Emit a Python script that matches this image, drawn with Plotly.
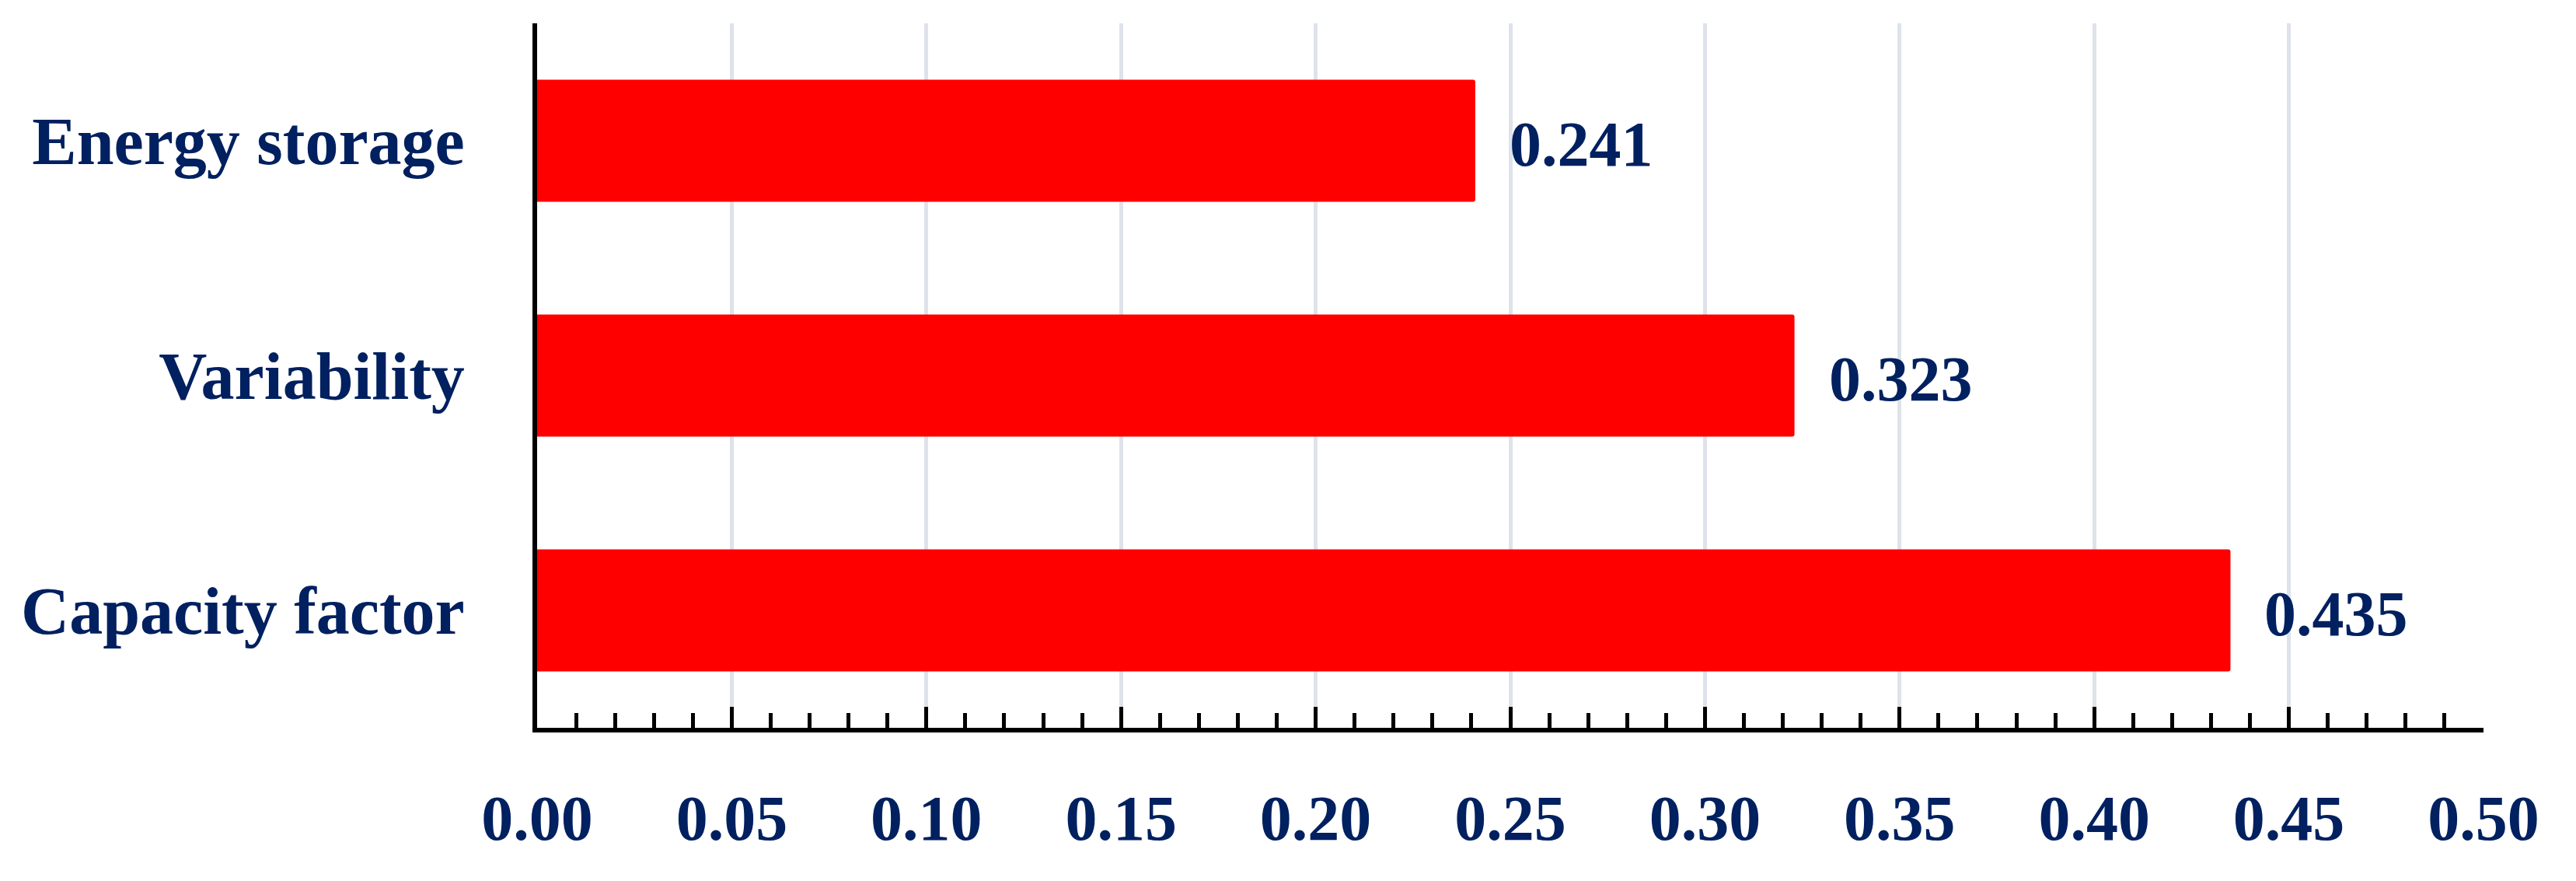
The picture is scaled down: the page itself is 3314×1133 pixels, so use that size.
import plotly.graph_objects as go

# bottom-to-top order, as plotly draws horizontal bars
categories = ["Capacity factor", "Variability", "Energy storage"]
values = [0.435, 0.323, 0.241]
value_labels = ["0.435", "0.323", "0.241"]
x_ticks = [0.00, 0.05, 0.10, 0.15, 0.20, 0.25, 0.30, 0.35, 0.40, 0.45, 0.50]
x_tick_text = ["0.00", "0.05", "0.10", "0.15", "0.20", "0.25", "0.30", "0.35", "0.40", "0.45", "0.50"]

navy = "#002060"
fnt = dict(family="Liberation Serif", size=82, color=navy, weight="bold")
cat_fnt = dict(fnt, size=86)

fig = go.Figure()
fig.add_trace(go.Bar(
    x=values, y=categories, orientation="h",
    marker=dict(color="#FF0000", line=dict(width=0), cornerradius=3),
    hoverinfo="skip",
))

# value labels to the right of each bar
for v, c, t in zip(values, categories, value_labels):
    fig.add_annotation(x=v, y=c, text=t, showarrow=False, xanchor="left",
                       yanchor="middle", xshift=42, yshift=-4, font=fnt)

fig.update_layout(
    width=3314, height=1133,
    margin=dict(l=683, r=127, t=22, b=205),
    paper_bgcolor="white", plot_bgcolor="white",
    bargap=0.48, showlegend=False,
)
fig.update_xaxes(
    range=[0, 0.5], tickvals=x_ticks, ticktext=x_tick_text,
    showgrid=True, gridcolor="#DEE3EB", gridwidth=5,
    showline=True, linecolor="black", linewidth=6,
    ticks="inside", ticklen=27, tickwidth=5, tickcolor="black",
    minor=dict(dtick=0.01, ticks="inside", ticklen=19, tickwidth=5,
               tickcolor="black", showgrid=False),
    tickfont=fnt, ticklabelstandoff=40, zeroline=False, automargin=False,
)
fig.update_yaxes(
    range=[-0.5, 2.5], showgrid=False,
    showline=True, linecolor="black", linewidth=6,
    ticks="", tickfont=cat_fnt, ticklabelstandoff=70, automargin=False,
)

fig.write_html("out.html")
